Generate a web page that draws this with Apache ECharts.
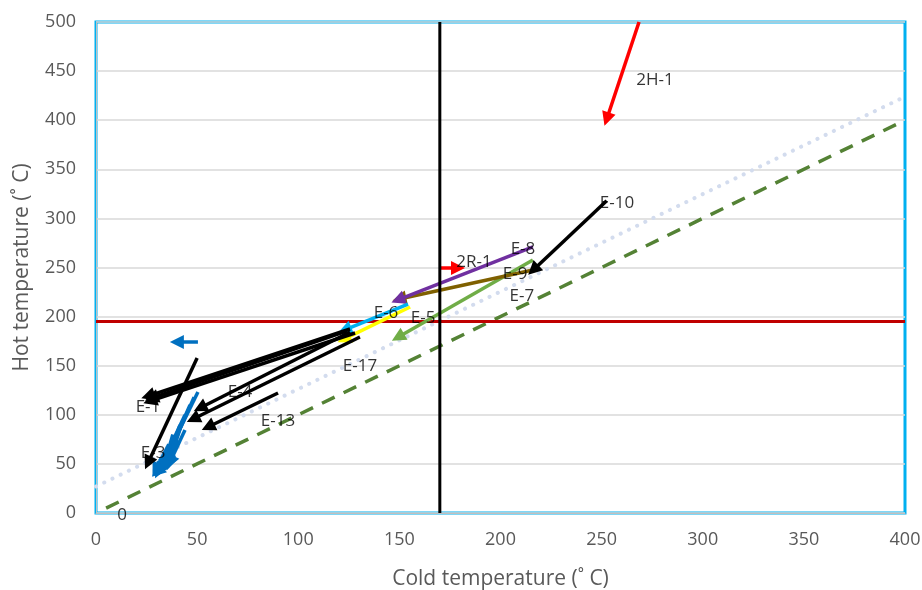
<!DOCTYPE html>
<html><head><meta charset="utf-8">
<script src="https://cdn.jsdelivr.net/npm/echarts@6/dist/echarts.min.js"></script>
<style>html,body{margin:0;padding:0;background:#fff}#c{width:922px;height:590px}</style>
</head><body><div id="c"></div>
<script>
// ---- data ----
const xAxisTitle = 'Cold temperature (˚ C)';
const yAxisTitle = 'Hot temperature (˚ C)';
const xTickValues = [0, 50, 100, 150, 200, 250, 300, 350, 400];
const yTickValues = [0, 50, 100, 150, 200, 250, 300, 350, 400, 450, 500];

const pinchColdLine = [[170, 0], [170, 500]];
const pinchHotLine = [[0, 195], [400, 195]];
const equalTempLine = [[5, 5], [400, 400]];
const approachLine = [[0, 27], [400, 424]];

// arrows: [startX, startY, endX, endY]
const blackArrows = [
  [125.6, 187.4, 25.7, 119.1],
  [128.1, 183.3, 26.7, 114.0],
  [123.5, 185.0, 27.5, 117.0],
  [125.6, 184.3, 51.4, 106.9],
  [130.5, 179.2, 48.0, 95.7],
  [90.0, 122.2, 55.4, 87.6],
  [50.0, 157.8, 25.7, 51.0],
  [252.5, 318.0, 216.2, 247.5]
];
const blueArrows = [
  [50.4, 123.2, 31.6, 43.8],
  [48.5, 118.0, 33.0, 46.0],
  [46.5, 110.0, 32.6, 45.8],
  [44.0, 99.8, 30.7, 41.8],
  [41.5, 89.6, 34.1, 47.9],
  [43.0, 95.0, 36.0, 50.0],
  [40.5, 74.3, 31.6, 43.8],
  [39.0, 59.0, 30.2, 41.8],
  [44.0, 84.5, 36.6, 51.9],
  [38.0, 80.0, 33.5, 48.0],
  [36.0, 70.0, 29.5, 44.0],
  [50.4, 174.1, 40.0, 174.1]
];
const redArrows = [
  [268.5, 500, 252.5, 401],
  [170, 249.5, 179, 249.5]
];
const purpleArrows = [[216, 271, 149.3, 217]];
const brownArrows = [[216, 247.5, 150, 218]];
const greenArrows = [[216, 257.6, 149.3, 179]];
const cyanArrows = [[154.3, 212.8, 123, 186.4]];
const yellowArrows = [[155.3, 209.8, 122.6, 177]];

const labelNames = ['2H-1', '2R-1', 'E-8', 'E-9', 'E-7', 'E-10', 'E-6', 'E-5', 'E-17', 'E-1', 'E-4', 'E-13', 'E-3', '0'];
const labelX = [276.4, 186.9, 211.1, 207.2, 210.6, 257.6, 143.4, 161.7, 130.5, 25.7, 71.2, 90.0, 28.2, 12.9];
const labelY = [441, 255.6, 268.8, 243.4, 221, 315.7, 203.7, 198.6, 149.7, 107.5, 123.2, 93.7, 61, -2];

// ---- chart ----
const chart = echarts.init(document.getElementById('c'));
const FONT = 'Open Sans';

function arrowSeries(arr, color, z) {
  return {
    type: 'lines',
    coordinateSystem: 'cartesian2d',
    silent: true,
    z: z || 3,
    symbol: ['none', 'triangle'],
    symbolSize: 14,
    lineStyle: { color: color, width: 3.5, opacity: 1, curveness: 0 },
    data: arr.map(a => ({ coords: [[a[0], a[1]], [a[2], a[3]]] }))
  };
}
function plainLine(pts, style, z) {
  return {
    type: 'line',
    data: pts,
    showSymbol: false,
    symbol: 'none',
    silent: true,
    z: z || 2,
    lineStyle: style
  };
}

chart.setOption({
  animation: false,
  grid: {
    left: 96, right: 17, top: 22, bottom: 77,
    outerBoundsMode: 'none', containLabel: false,
    show: true, borderColor: '#00B0F0', borderWidth: 3, backgroundColor: 'transparent'
  },
  xAxis: {
    type: 'value', min: xTickValues[0], max: xTickValues[xTickValues.length - 1], interval: 50,
    name: xAxisTitle, nameLocation: 'middle', nameGap: 56,
    nameTextStyle: { color: '#595959', fontSize: 21, fontFamily: FONT },
    axisLine: { show: true, onZero: false, lineStyle: { color: '#BFBFBF', width: 1 } },
    axisTick: { show: false },
    splitLine: { show: false },
    axisLabel: { color: '#595959', fontSize: 18, fontFamily: FONT, margin: 18 }
  },
  yAxis: {
    type: 'value', min: yTickValues[0], max: yTickValues[yTickValues.length - 1], interval: 50,
    name: yAxisTitle, nameLocation: 'middle', nameGap: 63,
    nameTextStyle: { color: '#595959', fontSize: 21, fontFamily: FONT },
    axisLine: { show: true, onZero: false, lineStyle: { color: '#BFBFBF', width: 1 } },
    axisTick: { show: false },
    splitLine: { show: true, lineStyle: { color: '#D9D9D9', width: 1.5 } },
    axisLabel: { color: '#595959', fontSize: 18, fontFamily: FONT, margin: 20 }
  },
  series: [
    plainLine(approachLine, { color: '#D3DCEE', width: 4, type: [0.1, 9], cap: 'round' }, 2),
    plainLine(equalTempLine, { color: '#548235', width: 3.5, type: [14, 10] }, 2),
    plainLine(pinchHotLine, { color: '#C00000', width: 3 }, 2),
    arrowSeries(greenArrows, '#70AD47'),
    arrowSeries(brownArrows, '#7F6000'),
    arrowSeries(purpleArrows, '#7030A0'),
    arrowSeries(yellowArrows, '#FFFF00'),
    arrowSeries(cyanArrows, '#00B0F0'),
    arrowSeries(blueArrows, '#0070C0'),
    arrowSeries(blackArrows, '#000000'),
    arrowSeries(redArrows, '#FF0000'),
    plainLine(pinchColdLine, { color: '#000000', width: 3 }, 4),
    {
      type: 'scatter',
      silent: true,
      clip: false,
      z: 6,
      symbolSize: 0,
      data: labelX.map((x, i) => ({ value: [x, labelY[i]], name: labelNames[i] })),
      label: {
        show: true, position: 'inside', formatter: p => p.name,
        color: '#000000', fontSize: 17, fontFamily: FONT
      }
    }
  ]
});
</script>
</body></html>
